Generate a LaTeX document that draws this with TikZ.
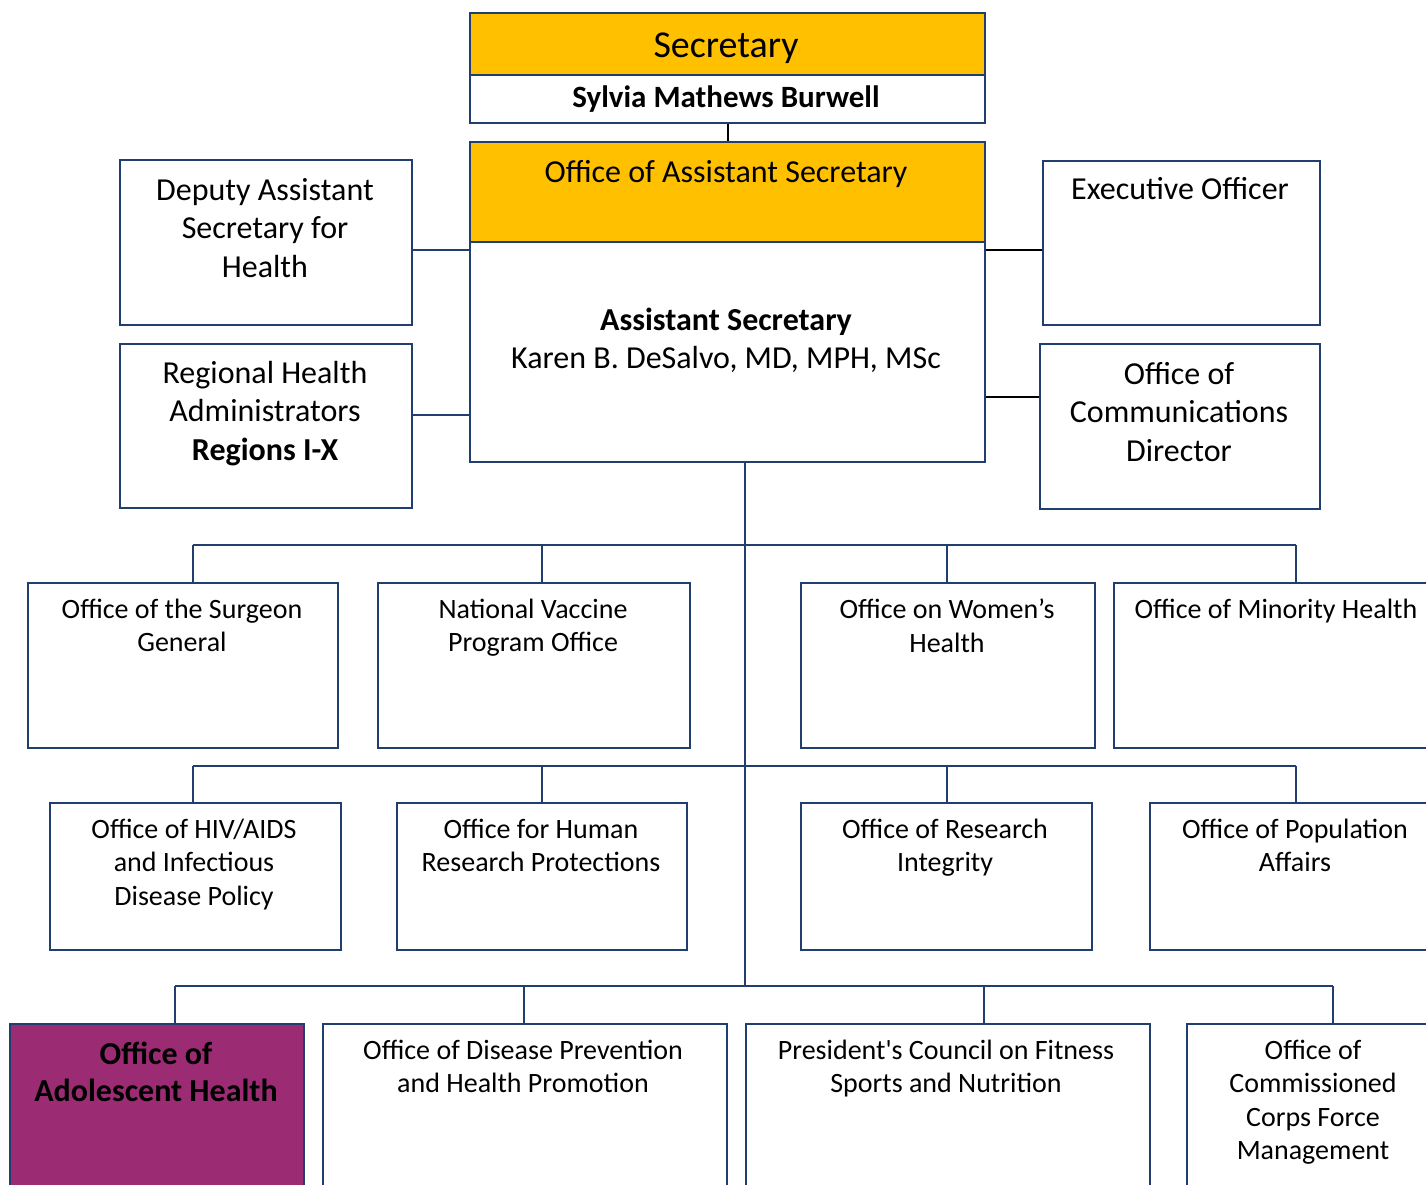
\documentclass[tikz,border=0pt]{standalone}
\usepackage{fontspec}
\setmainfont{Carlito}
\newfontfamily\rawfont{Carlito}
\usetikzlibrary{calc}
\definecolor{navy}{RGB}{32,62,110}
\definecolor{gold}{HTML}{FFC000}
\definecolor{plum}{HTML}{9B2C73}
\tikzset{
  box/.style={draw=navy, line width=2pt, fill=white, anchor=north west, inner sep=0pt},
  txt/.style={anchor=north, align=center, inner sep=0pt, execute at begin node=\strut},
  link/.style={draw=navy, line width=2pt},
  blink/.style={draw=black, line width=2pt},
  fbig/.style={font=\fontsize{38}{48}\selectfont},
  fname/.style={font=\fontsize{31}{36}\selectfont\bfseries},
  foas/.style={font=\fontsize{32}{40}\selectfont},
  fasst/.style={font=\fontsize{32}{38}\selectfont},
  fside/.style={font=\fontsize{32}{38.5}\selectfont},
  fbody/.style={font=\fontsize{28}{33.6}\selectfont},
  fadol/.style={font=\fontsize{32}{37}\selectfont\bfseries}
}
\begin{document}
\begin{tikzpicture}[x=1pt,y=-1pt]
\useasboundingbox (0,0) rectangle (1426,1185);
\fill[white] (0,0) rectangle (1426,1185);

% named points of the connectors
\coordinate (cdep) at (411,250);
\coordinate (creg) at (411,415);
\coordinate (cexe) at (1042,250);
\coordinate (ccom) at (1039,397);
\coordinate (ttop) at (745,461);
\coordinate (tbot) at (745,986);
\coordinate (b1l) at (193,545);
\coordinate (b1r) at (1296,545);
\coordinate (b2l) at (193,766);
\coordinate (b2r) at (1296,766);
\coordinate (b3l) at (175,986);
\coordinate (b3r) at (1333,986);

% boxes
\node[box, fill=gold, minimum width=515, minimum height=62] (sec) at (469,12) {};
\node[box, minimum width=515, minimum height=48] (secn) at (469,74) {};
\node[box, fill=gold, minimum width=515, minimum height=100] (oas) at (469,141) {};
\node[box, minimum width=515, minimum height=220] (asst) at (469,241) {};

\node[box, minimum width=292, minimum height=165] (dep) at (119,159) {};
\node[box, minimum width=292, minimum height=164] (reg) at (119,343) {};
\node[box, minimum width=277, minimum height=164] (exe) at (1042,160) {};
\node[box, minimum width=280, minimum height=165] (com) at (1039,343) {};

\node[box, minimum width=310, minimum height=165] (sg) at (27,582) {};
\node[box, minimum width=312, minimum height=165] (nv) at (377,582) {};
\node[box, minimum width=294, minimum height=165] (wh) at (800,582) {};
\node[box, minimum width=330, minimum height=165] (mh) at (1113,582) {};

\node[box, minimum width=291, minimum height=147] (hiv) at (49,802) {};
\node[box, minimum width=290, minimum height=147] (hrp) at (396,802) {};
\node[box, minimum width=291, minimum height=147] (ori) at (800,802) {};
\node[box, minimum width=292, minimum height=147] (pop) at (1149,802) {};

\node[box, fill=plum, minimum width=294, minimum height=190] (ado) at (9,1023) {};
\node[box, minimum width=404, minimum height=190] (dp) at (322,1023) {};
\node[box, minimum width=404, minimum height=190] (pc) at (745,1023) {};
\node[box, minimum width=254, minimum height=190] (cc) at (1186,1023) {};

% connectors
\draw[blink] (secn.south) -- (oas.north);
\draw[link] (cdep) -- (cdep -| asst.west);
\draw[link] (creg) -- (creg -| asst.west);
\draw[blink] (cexe -| asst.east) -- (cexe);
\draw[blink] (ccom -| asst.east) -- (ccom);
\draw[link] (ttop) -- (tbot);
\draw[link] (b1l) -- (b1r);
\draw[link] (b2l) -- (b2r);
\draw[link] (b3l) -- (b3r);
\draw[link] (b1l) -- (b1l |- sg.north);
\draw[link] (542,545) -- (542,582 |- nv.north);
\draw[link] (947,545) -- (947,582 |- wh.north);
\draw[link] (b1r) -- (b1r |- mh.north);
\draw[link] (b2l) -- (b2l |- hiv.north);
\draw[link] (542,766) -- (542,802 |- hrp.north);
\draw[link] (947,766) -- (947,802 |- ori.north);
\draw[link] (b2r) -- (b2r |- pop.north);
\draw[link] (b3l) -- (b3l |- ado.north);
\draw[link] (524,986) -- (524,1023 |- dp.north);
\draw[link] (984,986) -- (984,1023 |- pc.north);
\draw[link] (b3r) -- (b3r |- cc.north);

% texts
\node[txt, fbig] (tsec) at (726,23.4) {Secretary};
\node[txt, fname] (tsecn) at (726,81.8) {Sylvia Mathews Burwell};
\node[txt, foas] (toas) at (726,154) {Office of Assistant Secretary};
\node[txt, fasst] (tasst) at (726,307.4) {\textbf{Assistant Secretary}\\Karen B. DeSalvo, MD, MPH, MSc};
\node[txt, fside] (tdep) at (265,178) {Deputy Assistant\\Secretary for\\Health};
\node[txt, fside] (treg) at (265,361) {Regional Health\\Administrators\\\textbf{Regions I-X}};
\node[txt, fside] (texe) at (1180,172) {Executive Officer};
\node[txt, fside] (tcom) at (1179,362) {Office of\\Communications\\Director};

\node[txt, fbody] (tsg) at (182,598.5) {Office of the Surgeon\\General};
\node[txt, fbody] (tnv) at (533,598.5) {National Vaccine\\Program Office};
\node[txt, fbody] (twh) at (947,598.5) {Office on Women’s\\Health};
\node[txt, fbody] (tmh) at (1276,594.5) {Office of Minority Health};

\node[txt, fbody] (thiv) at (194,818.5) {Office of HIV/AIDS\\and Infectious\\Disease Policy};
\node[txt, fbody] (thrp) at (541,818.5) {Office for Human\\Research Protections};
\node[txt, fbody] (tori) at (945,818.5) {Office of Research\\Integrity};
\node[txt, fbody] (tpop) at (1295,818.5) {Office of Population\\Affairs};

\node[txt, fadol] (tado) at (156,1042) {Office of\\Adolescent Health};
\node[txt, fbody] (tdp) at (523,1039.5) {Office of Disease Prevention\\and Health Promotion};
\node[txt, fbody] (tpc) at (946,1039.5) {President{\rawfont '}s Council on Fitness\\Sports and Nutrition};
\node[txt, fbody] (tcc) at (1313,1039.5) {Office of\\Commissioned\\Corps Force\\Management};
\end{tikzpicture}
\end{document}
